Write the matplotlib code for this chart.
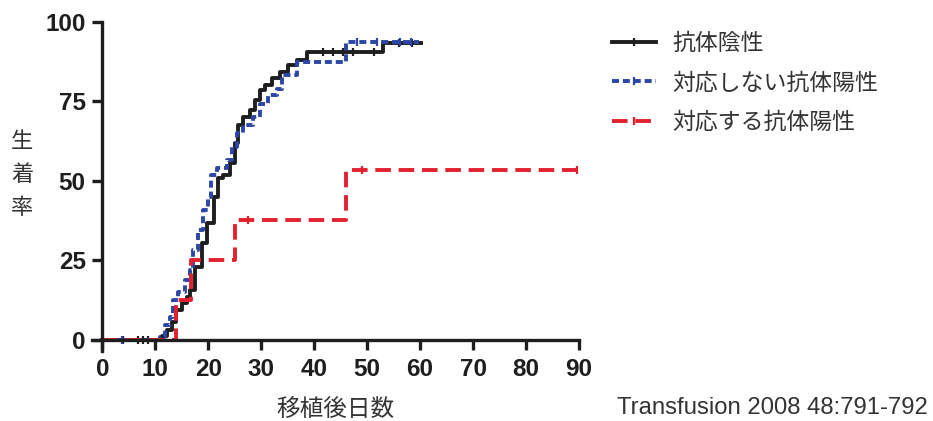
import matplotlib

matplotlib.use("Agg")
import matplotlib.pyplot as plt
import numpy as np
from matplotlib.lines import Line2D

OUTPUT_IMAGE = "out.png"

# Kaplan-Meier style steps: (day of event, cumulative engraftment %)
neg_days = [0, 11.2, 12.2, 13.1, 14.0, 15.0, 15.9, 16.6, 17.5, 18.8, 19.7, 21.0,
            21.9, 22.7, 24.1, 25.0, 25.7, 26.6, 27.9, 28.8, 29.8, 30.7, 32.0,
            33.5, 35.1, 36.7, 38.6, 52.9]
neg_pct = [0, 1.2, 3.1, 5.8, 9.4, 11.5, 13.6, 15.7, 23.0, 30.4, 36.7, 45.0,
           50.8, 51.8, 55.5, 61.8, 67.5, 70.2, 72.3, 75.4, 78.5, 80.1, 82.2,
           84.3, 86.4, 88.0, 90.6, 93.2]
neg_end = 60.2
neg_censor = [4.0, 6.7, 7.7, 8.7, 41.7, 43.6, 45.5, 47.4, 51.2, 56.0, 58.5]

nonresp_days = [0, 10.9, 11.8, 12.8, 13.4, 14.3, 15.6, 16.6, 17.2, 18.1, 19.1,
                20.0, 20.6, 21.6, 23.5, 24.4, 25.4, 26.6, 28.5, 29.8, 31.3,
                32.9, 33.9, 36.7, 46.1]
nonresp_pct = [0, 1.0, 4.7, 7.3, 12.6, 15.2, 18.8, 22.0, 28.3, 34.6, 40.8,
               45.0, 51.8, 53.9, 56.5, 60.7, 64.9, 67.5, 70.2, 74.3, 77.0,
               79.0, 83.3, 87.2, 93.6]
nonresp_end = 59.8
nonresp_censor = [3.8, 48.0, 51.8, 56.2, 58.3]

resp_days = [0, 14.0, 16.8, 25.0, 46.1]
resp_pct = [0, 12.5, 25.0, 37.6, 53.3]
resp_end = 90.0
resp_censor = [27.5, 49.0, 89.6]

labels = ["抗体陰性", "対応しない抗体陽性", "対応する抗体陽性"]
x_ticks = list(range(0, 91, 10))
y_ticks = [0, 25, 50, 75, 100]

BLACK = "#1e1e1e"
BLUE = "#2b46a6"
RED = "#e2202e"
TEXT = "#333333"

plt.rcParams["font.family"] = ["Noto Sans CJK JP", "DejaVu Sans"]


def step_value(days, pct, t):
    idx = np.searchsorted(days, t, side="right") - 1
    return np.asarray(pct)[idx]


def draw_curve(ax, days, pct, end, censor, style):
    xs = list(days) + [end]
    ys = list(pct) + [pct[-1]]
    ax.step(xs, ys, where="post", **style)
    cy = [step_value(days, pct, t) for t in censor]
    ax.plot(censor, cy, linestyle="none", marker="|", markersize=6,
            markeredgewidth=1.6, color=style["color"])


figure = plt.figure(figsize=(9.33, 4.21), dpi=100)
ax = figure.add_axes([0.0983, 0.166, 0.5223, 0.7824])

styles = [
    dict(color=BLACK, linewidth=2.8, linestyle="-"),
    dict(color=BLUE, linewidth=2.8, linestyle=(0, (1.8, 1.0))),
    dict(color=RED, linewidth=2.8, linestyle=(0, (4.0, 2.0))),
]
draw_curve(ax, neg_days, neg_pct, neg_end, neg_censor, styles[0])
draw_curve(ax, nonresp_days, nonresp_pct, nonresp_end, nonresp_censor, styles[1])
draw_curve(ax, resp_days, resp_pct, resp_end, resp_censor, styles[2])

ax.set_xlim(-2, 90)
ax.set_ylim(-3.5, 100)
ax.spines["left"].set_position(("data", 0))
ax.spines["bottom"].set_position(("data", 0))
ax.spines["left"].set_bounds(-3.5, 100)
ax.spines["bottom"].set_bounds(-2, 90)
for side in ("top", "right"):
    ax.spines[side].set_visible(False)
for side in ("left", "bottom"):
    ax.spines[side].set_linewidth(2.4)
    ax.spines[side].set_color(BLACK)

ax.set_xticks(x_ticks)
ax.set_yticks(y_ticks)
ax.tick_params(axis="both", direction="out", length=7, width=2.4,
               color=BLACK)
ax.tick_params(axis="x", pad=6)
ax.tick_params(axis="y", pad=5)
for lab in ax.get_xticklabels() + ax.get_yticklabels():
    lab.set_fontfamily(["Liberation Sans", "DejaVu Sans"])
    lab.set_fontweight("bold")
    lab.set_fontsize(17.5)
    lab.set_color(BLACK)

ax.set_xlabel("移植後日数", fontsize=17, color=TEXT, labelpad=12)
ax.set_ylabel("生\n着\n率", fontsize=16, color=TEXT, rotation=0,
              va="center", ha="center", linespacing=1.55)
ax.yaxis.set_label_coords(-0.143, 0.535)

handles = [
    Line2D([], [], marker="|", markersize=6, markeredgewidth=1.6, **st)
    for st in styles
]
legend = figure.legend(handles, labels, loc="upper left",
                       bbox_to_anchor=(0.656, 0.925), frameon=False,
                       fontsize=16.5, handlelength=1.9, handletextpad=0.75,
                       labelspacing=0.72, borderpad=0, borderaxespad=0)
for txt in legend.get_texts():
    txt.set_color(TEXT)

figure.text(0.661, (421 - 408) / 421, "Transfusion 2008 48:791-792",
            fontsize=17.2, color=TEXT, ha="left", va="center",
            family=["Liberation Sans", "DejaVu Sans"])

figure.savefig(OUTPUT_IMAGE, dpi=100)
plt.close(figure)
